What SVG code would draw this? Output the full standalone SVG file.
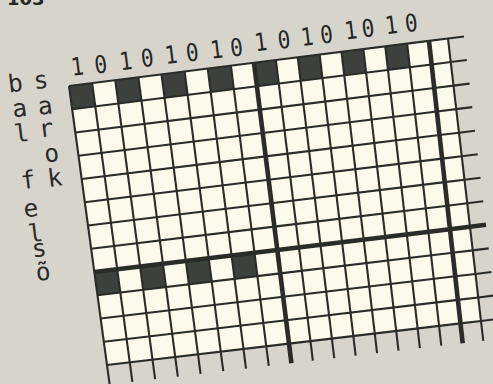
<svg xmlns="http://www.w3.org/2000/svg" width="493" height="384" viewBox="0 0 493 384">
<defs>
<style>
.paper{fill:#d7d5cb}
.sheet{fill:#fcfaea}
.blk{fill:#3d413d}
.thin{fill:none;stroke:#2a2c29;stroke-width:2.1;stroke-linecap:butt;stroke-linejoin:round}
.thick{fill:none;stroke:#2a2c29;stroke-width:4.6;stroke-linecap:butt;stroke-linejoin:round}
.lbl{font-family:"DejaVu Sans Mono","Liberation Mono",monospace;font-size:24.5px;fill:#2b2b2b;text-anchor:middle}
.dig{font-family:"DejaVu Sans Mono","Liberation Mono",monospace;font-size:24.5px;fill:#262626;text-anchor:middle}
.pg{font-family:"DejaVu Sans","Liberation Sans",sans-serif;font-weight:bold;font-size:18px;fill:#262626}
</style>
</defs>
<rect class="paper" x="0" y="0" width="493" height="384"/>
<text class="pg" x="7" y="4.5">103</text>

<g id="grid">
<polygon class="sheet" points="69,86 448,38.51 481,321 107,365"/>
<g id="cells">
<polygon class="blk" points="69,86 92.13,83.1 95.26,106.37 72.17,109.25"/>
<polygon class="blk" points="115.25,80.2 138.38,77.31 141.45,100.62 118.35,103.49"/>
<polygon class="blk" points="161.5,74.41 184.63,71.51 187.64,94.85 164.54,97.73"/>
<polygon class="blk" points="207.75,68.61 230.88,65.72 233.82,89.1 210.73,91.97"/>
<polygon class="blk" points="254,62.82 275.88,60.08 278.76,83.5 256.92,86.22"/>
<polygon class="blk" points="297.75,57.34 319.63,54.6 322.43,78.05 300.59,80.77"/>
<polygon class="blk" points="341.5,51.85 363.38,49.11 366.11,72.6 344.27,75.32"/>
<polygon class="blk" points="385.25,46.37 407.13,43.63 409.79,67.16 387.95,69.88"/>
<polygon class="blk" points="94.33,272 117.21,269.26 120.34,292.53 97.5,295.25"/>
<polygon class="blk" points="140.08,266.52 162.96,263.75 166.03,287.06 143.19,289.81"/>
<polygon class="blk" points="185.84,260.97 208.71,258.23 211.72,281.57 188.88,284.29"/>
<polygon class="blk" points="231.58,255.49 254.46,252.76 257.41,276.14 234.56,278.85"/>
</g>
</g>

<g id="connectors">
<g id="verticals">
<line class="thin" x1="69" y1="86" x2="109.66" y2="384.53"/>
<line class="thin" x1="92.13" y1="83.1" x2="132.38" y2="381.87"/>
<line class="thin" x1="115.25" y1="80.2" x2="155.11" y2="379.21"/>
<line class="thin" x1="138.38" y1="77.31" x2="177.83" y2="376.55"/>
<line class="thin" x1="161.5" y1="74.41" x2="200.56" y2="373.88"/>
<line class="thin" x1="184.63" y1="71.51" x2="223.28" y2="371.23"/>
<line class="thin" x1="207.75" y1="68.61" x2="246" y2="368.56"/>
<line class="thin" x1="230.88" y1="65.72" x2="268.73" y2="365.9"/>
<line class="thin" x1="275.88" y1="60.08" x2="312.86" y2="360.73"/>
<line class="thin" x1="297.75" y1="57.34" x2="334.26" y2="358.22"/>
<line class="thin" x1="319.63" y1="54.6" x2="355.67" y2="355.72"/>
<line class="thin" x1="341.5" y1="51.85" x2="377.08" y2="353.22"/>
<line class="thin" x1="363.38" y1="49.11" x2="398.49" y2="350.71"/>
<line class="thin" x1="385.25" y1="46.37" x2="419.89" y2="348.2"/>
<line class="thin" x1="407.13" y1="43.63" x2="441.3" y2="345.69"/>
<line class="thin" x1="448" y1="38.51" x2="483.31" y2="340.77"/>
</g>
<g id="horizontals">
<polyline class="thin" points="69,86 254,62.82 429,40.89 448,38.51 464,36.51"/>
<polyline class="thin" points="72.17,109.25 256.92,86.22 431.63,64.43 450.75,62.05 466.75,60.05"/>
<polyline class="thin" points="75.33,132.5 259.83,109.62 434.25,87.98 453.5,85.59 469.5,83.59"/>
<polyline class="thin" points="78.5,155.75 262.75,133.01 436.88,111.52 456.25,109.13 472.25,107.13"/>
<polyline class="thin" points="81.67,179 265.67,156.41 439.5,135.06 459,132.67 475,130.67"/>
<polyline class="thin" points="84.83,202.25 268.58,179.81 442.13,158.61 461.75,156.22 477.75,154.22"/>
<polyline class="thin" points="88,225.5 271.5,203.21 444.75,182.15 464.5,179.76 480.5,177.76"/>
<polyline class="thin" points="91.17,248.75 274.42,226.6 447.38,205.69 467.25,203.3 483.25,201.3"/>
<polyline class="thin" points="97.5,295.25 280.25,273.4 452.63,252.78 472.75,250.38 488.75,248.38"/>
<polyline class="thin" points="100.67,318.5 283.17,296.8 455.25,276.32 475.5,273.92 491.5,271.92"/>
<polyline class="thin" points="103.83,341.75 286.08,320.19 457.88,299.86 478.25,297.46 494.25,295.46"/>
<polyline class="thin" points="107,365 289,343.59 460.5,323.41 481,321 497,319"/>
</g>
<g id="block-lines">
<line class="thick" x1="254" y1="62.82" x2="291.45" y2="363.24"/>
<line class="thick" x1="429" y1="40.89" x2="462.71" y2="343.19"/>
<polyline class="thick" points="94.33,272 277.33,250 450,229.23 470,226.84 486,224.84"/>
</g>
</g>

<g id="bits">
<text class="dig" transform="translate(78.3,75) rotate(-7) scale(0.86,1)">1</text>
<text class="dig" transform="translate(101.7,73) rotate(-7) scale(0.86,1)">0</text>
<text class="dig" transform="translate(126.7,69.5) rotate(-7) scale(0.86,1)">1</text>
<text class="dig" transform="translate(148.3,66.5) rotate(-7) scale(0.86,1)">0</text>
<text class="dig" transform="translate(172,63.3) rotate(-7) scale(0.86,1)">1</text>
<text class="dig" transform="translate(193.3,61) rotate(-7) scale(0.86,1)">0</text>
<text class="dig" transform="translate(217.5,58) rotate(-7) scale(0.86,1)">1</text>
<text class="dig" transform="translate(237.5,56) rotate(-7) scale(0.86,1)">0</text>
<text class="dig" transform="translate(261.7,50.5) rotate(-7) scale(0.86,1)">1</text>
<text class="dig" transform="translate(285,48.3) rotate(-7) scale(0.86,1)">0</text>
<text class="dig" transform="translate(308,45.2) rotate(-7) scale(0.86,1)">1</text>
<text class="dig" transform="translate(327.5,43) rotate(-7) scale(0.86,1)">0</text>
<text class="dig" transform="translate(351.7,38.8) rotate(-7) scale(0.86,1)">1</text>
<text class="dig" transform="translate(369,36.8) rotate(-7) scale(0.86,1)">0</text>
<text class="dig" transform="translate(392.3,33.5) rotate(-7) scale(0.86,1)">1</text>
<text class="dig" transform="translate(412.3,31.6) rotate(-7) scale(0.86,1)">0</text>
</g>

<g id="caption">
<text class="lbl" transform="translate(16.3,91.7) rotate(-7)">b</text>
<text class="lbl" transform="translate(20.5,116.7) rotate(-7)">a</text>
<text class="lbl" transform="translate(22.5,141.7) rotate(-7)">l</text>
<text class="lbl" transform="translate(41.7,88.3) rotate(-7)">s</text>
<text class="lbl" transform="translate(46,114) rotate(-7)">a</text>
<text class="lbl" transform="translate(47,136.7) rotate(-7)">r</text>
<text class="lbl" transform="translate(52.5,161.7) rotate(-7)">o</text>
<text class="lbl" transform="translate(55.8,186) rotate(-7)">k</text>
<text class="lbl" transform="translate(29,188.3) rotate(-7)">f</text>
<text class="lbl" transform="translate(31.7,216.7) rotate(-7)">e</text>
<text class="lbl" transform="translate(36.5,241.7) rotate(-7)">l</text>
<text class="lbl" transform="translate(40,256.7) rotate(-7)">s</text>
<text class="lbl" transform="translate(44,280) rotate(-7)">õ</text>
</g>
</svg>
